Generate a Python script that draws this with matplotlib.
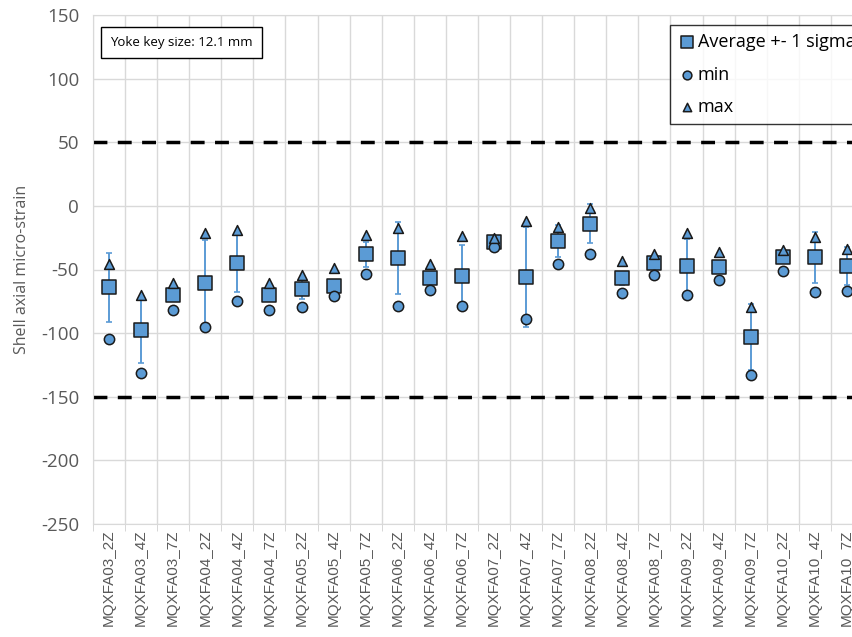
import numpy as np
import matplotlib
matplotlib.use("Agg")
from matplotlib import pyplot as plt
from matplotlib.ticker import MultipleLocator, FixedLocator, NullFormatter

plt.rcParams["axes.unicode_minus"] = False

magnets = ["MQXFA03_2Z", "MQXFA03_4Z", "MQXFA03_7Z", "MQXFA04_2Z", "MQXFA04_4Z", "MQXFA04_7Z",
           "MQXFA05_2Z", "MQXFA05_4Z", "MQXFA05_7Z", "MQXFA06_2Z", "MQXFA06_4Z", "MQXFA06_7Z",
           "MQXFA07_2Z", "MQXFA07_4Z", "MQXFA07_7Z", "MQXFA08_2Z", "MQXFA08_4Z", "MQXFA08_7Z",
           "MQXFA09_2Z", "MQXFA09_4Z", "MQXFA09_7Z", "MQXFA10_2Z", "MQXFA10_4Z", "MQXFA10_7Z"]
average = [-64, -97.5, -70, -61, -45, -70, -65, -63, -38, -41, -57, -55,
           -28, -56, -27.5, -14, -57, -45, -47, -48, -103, -40.5, -40.5, -47]
sigma = [27, 26, 5, 34, 23, 5, 8, 5, 10, 28.5, 5, 24,
         2, 39.5, 12.5, 15.5, 5, 3, 21, 5, 26, 4, 20, 15]
minimum = [-104.5, -131.5, -82, -95, -74.5, -82, -79.5, -71, -53.5, -79, -66.5, -78.5,
           -32.5, -89, -45.5, -37.5, -68.5, -54, -70, -58, -133, -51, -67.5, -67]
maximum = [-45.5, -70, -60.5, -21, -19, -60.5, -54, -49, -23, -17, -45.5, -23.5,
           -25, -11.5, -16.5, -2, -43, -37.5, -21.5, -36.5, -79.5, -34.5, -24.5, -33.5]
limits = [50, -150]

blue = "#5b9bd5"
edge = "#1a1a1a"
gray = "#595959"

fig = plt.figure(figsize=(8.53, 6.37), dpi=100)
ax = fig.add_axes([93 / 853, 113 / 637, 770 / 853, 509 / 637])

x = np.arange(len(magnets))

ax.errorbar(x, average, yerr=sigma, fmt="none", ecolor=blue, elinewidth=1.4,
            capsize=2.5, capthick=1.2, zorder=3)
ax.scatter(x, average, marker="s", s=95, c=blue, edgecolors=edge, linewidths=1.1,
           zorder=4, label="Average +- 1 sigma")
ax.scatter(x, minimum, marker="o", s=55, c=blue, edgecolors=edge, linewidths=1.1,
           zorder=4, label="min")
ax.scatter(x, maximum, marker="^", s=50, c=blue, edgecolors=edge, linewidths=1.1,
           zorder=4, label="max")

for lim in limits:
    ax.axhline(lim, color="black", lw=2.5, ls=(0, (4, 3)), zorder=2)

ax.set_xlim(-0.5, len(magnets) - 0.5)
ax.set_ylim(-250, 150)
ax.yaxis.set_major_locator(MultipleLocator(50))
ax.set_xticks(x)
ax.set_xticklabels(magnets, rotation=90, fontsize=11, color=gray, family="Liberation Sans")
ax.xaxis.set_minor_locator(FixedLocator(np.arange(-0.5, len(magnets), 1)))
ax.xaxis.set_minor_formatter(NullFormatter())
ax.tick_params(axis="x", which="major", length=0, pad=4)
ax.tick_params(axis="x", which="minor", length=5, color="#d0d0d0")
ax.tick_params(axis="y", length=0, labelsize=13.5, labelcolor=gray, pad=10)
for lab in ax.get_yticklabels():
    lab.set_family("Open Sans")

ax.grid(True, axis="y", color="#d9d9d9", lw=1, zorder=0)
ax.grid(True, axis="x", which="minor", color="#d9d9d9", lw=1, zorder=0)
ax.set_axisbelow(True)
for s in ax.spines.values():
    s.set_color("#d9d9d9")

ax.set_ylabel("Shell axial micro-strain", fontsize=11.5, color=gray, family="Open Sans", labelpad=8)

fig.text(110 / 853, 1 - 42.5 / 637, "Yoke key size: 12.1 mm", fontsize=9.5, family="Open Sans",
         va="center", ha="left",
         bbox=dict(boxstyle="square,pad=0.7", fc="white", ec="black", lw=1))

leg = fig.legend(loc="upper left", bbox_to_anchor=(670 / 853, 1 - 25 / 637),
                 frameon=True, fancybox=False, edgecolor="black",
                 prop={"family": "Open Sans", "size": 13}, handletextpad=0.1,
                 borderpad=0.45, labelspacing=0.8, markerscale=0.85, handlelength=1.0,
                 borderaxespad=0)
leg.get_frame().set_linewidth(1)

fig.savefig("out.png", dpi=100)
